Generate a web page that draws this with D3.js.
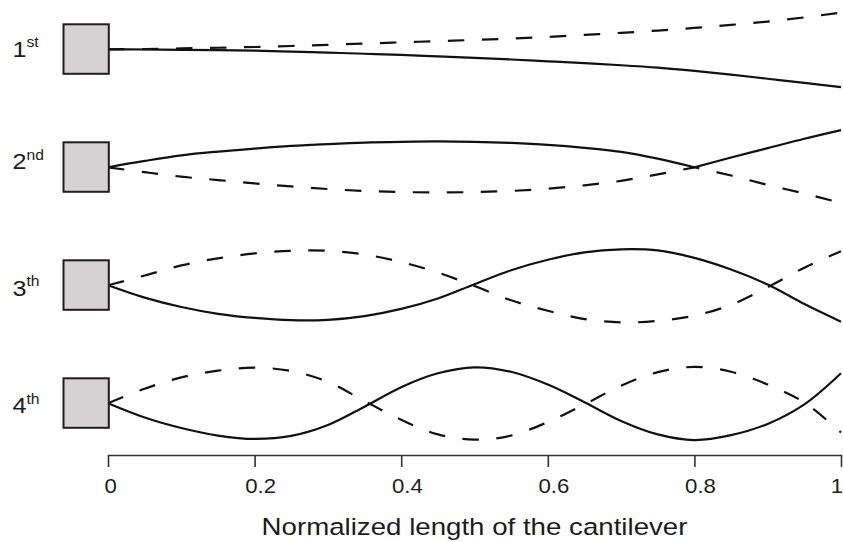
<!DOCTYPE html>
<html>
<head>
<meta charset="utf-8">
<script src="https://cdn.jsdelivr.net/npm/d3@7"></script>
<style>
  html, body { margin: 0; padding: 0; background: #fff; }
  svg { display: block; }
</style>
</head>
<body>
<svg id="chart" width="843" height="542"></svg>
<script>
// Normalized position along the cantilever (0 = clamped end, 1 = free end)
const position = [0, 0.05, 0.1, 0.15, 0.2, 0.25, 0.3, 0.35, 0.4, 0.45, 0.5,
                  0.55, 0.6, 0.65, 0.7, 0.75, 0.8, 0.85, 0.9, 0.95, 1];

// Vibration modes and their ordinal suffixes
const modes = ["1", "2", "3", "4"];
const suffixes = ["st", "nd", "th", "th"];

// Normalized deflection of each mode: two opposite extreme positions
const mode1Solid  = [0, -0.005, -0.013, -0.022, -0.037, -0.06, -0.088, -0.118, -0.15, -0.188, -0.228,
                     -0.272, -0.32, -0.37, -0.425, -0.49, -0.575, -0.675, -0.785, -0.895, -1.01];
const mode1Dashed = [0, 0.007, 0.024, 0.042, 0.062, 0.088, 0.12, 0.153, 0.186, 0.217, 0.25,
                     0.285, 0.33, 0.385, 0.44, 0.50, 0.57, 0.65, 0.74, 0.85, 0.98];

const mode2Solid  = [0, 0.17, 0.32, 0.42, 0.50, 0.57, 0.62, 0.66, 0.68, 0.69, 0.68,
                     0.65, 0.60, 0.52, 0.41, 0.23, 0, 0.26, 0.51, 0.76, 0.99];
const mode2Dashed = [0, -0.13, -0.25, -0.34, -0.43, -0.51, -0.58, -0.63, -0.66, -0.67, -0.66,
                     -0.63, -0.57, -0.48, -0.36, -0.19, 0, -0.22, -0.47, -0.70, -0.95];

const mode3Solid  = [0, -0.33, -0.58, -0.76, -0.87, -0.93, -0.92, -0.82, -0.63, -0.35, 0.03,
                     0.40, 0.68, 0.88, 0.96, 0.93, 0.73, 0.42, 0.02, -0.50, -0.97];
const mode3Dashed = [0, 0.26, 0.53, 0.72, 0.85, 0.92, 0.92, 0.82, 0.62, 0.34, -0.02,
                     -0.40, -0.68, -0.90, -0.99, -0.95, -0.81, -0.52, -0.05, 0.47, 0.91];

const mode4Solid  = [0, -0.38, -0.66, -0.86, -0.95, -0.87, -0.58, -0.09, 0.43, 0.80, 0.96,
                     0.84, 0.50, 0.03, -0.47, -0.83, -0.98, -0.85, -0.55, -0.03, 0.80];
const mode4Dashed = [0, 0.39, 0.69, 0.87, 0.95, 0.86, 0.57, 0.06, -0.44, -0.83, -0.97,
                     -0.86, -0.50, -0.03, 0.47, 0.83, 0.97, 0.84, 0.50, 0.02, -0.78];

// Axis ticks
const tickValues = [0, 0.2, 0.4, 0.6, 0.8, 1];
const tickLabels = ["0", "0.2", "0.4", "0.6", "0.8", "1"];
const axisTitle = "Normalized length of the cantilever";

const shapes = [
  { solid: mode1Solid, dashed: mode1Dashed },
  { solid: mode2Solid, dashed: mode2Dashed },
  { solid: mode3Solid, dashed: mode3Dashed },
  { solid: mode4Solid, dashed: mode4Dashed }
];

const svg = d3.select("#chart");
const font = "'Liberation Sans', Arial, Helvetica, sans-serif";
const ink = "#1c1c1c";
const stretch = 1.12;

const x = d3.scaleLinear().domain([0, 1]).range([108, 841]);
const row = d3.scalePoint().domain(modes).range([49.3, 403.3]);
const defl = d3.scaleLinear().domain([-1, 1]).range([37.5, -37.5]);

const line = d3.line()
  .x(d => x(d[0]))
  .y(d => defl(d[1]))
  .curve(d3.curveCatmullRom.alpha(0.5));

// Split a shape where it only touches zero, so the touch stays a sharp corner
function shapePath(values) {
  const pieces = [[0]];
  for (let i = 1; i < values.length; i++) {
    pieces[pieces.length - 1].push(i);
    if (i < values.length - 1 && values[i] === 0 && values[i - 1] * values[i + 1] > 0) {
      pieces.push([i]);
    }
  }
  return pieces.map((p, k) => {
    const s = line(p.map(i => [position[i], values[i]]));
    return k ? s.replace(/^M/, "L") : s;
  }).join("");
}

// Label baseline offsets for each row
const labelBase = [7.6, 2.0, 10.6, 10.0];

modes.forEach((m, i) => {
  const g = svg.append("g").attr("transform", `translate(0,${row(m)})`);

  g.append("path")
    .attr("d", shapePath(shapes[i].dashed))
    .attr("fill", "none")
    .attr("stroke", "#111")
    .attr("stroke-width", 2.2)
    .attr("stroke-dasharray", "16.5 17.5");

  g.append("path")
    .attr("d", shapePath(shapes[i].solid))
    .attr("fill", "none")
    .attr("stroke", "#111")
    .attr("stroke-width", 2.2);

  // clamp block
  g.append("rect")
    .attr("x", x(0) - 44.5)
    .attr("y", -25)
    .attr("width", 45.3)
    .attr("height", 49.5)
    .attr("fill", "#d6d1d2")
    .attr("stroke", "#1e1e1e")
    .attr("stroke-width", 2);

  const t = g.append("text")
    .attr("transform", `translate(12.5,${labelBase[i]}) scale(${stretch},1)`)
    .attr("font-family", font)
    .attr("fill", ink);
  t.append("tspan").attr("font-size", 22.5).text(m);
  t.append("tspan").attr("font-size", 14).attr("dy", -9.5).text(suffixes[i]);
});

// Bottom axis
const axis = d3.axisBottom(x)
  .tickValues(tickValues)
  .tickFormat((d, i) => tickLabels[i])
  .tickSize(12)
  .tickSizeOuter(0);

const ag = svg.append("g").attr("transform", "translate(0,455)").call(axis);
ag.select(".domain").attr("stroke", "#333").attr("stroke-width", 1.6);
ag.selectAll(".tick line").attr("stroke", "#333").attr("stroke-width", 1.6);
ag.selectAll(".tick text")
  .attr("y", null)
  .attr("dy", null)
  .attr("font-family", font)
  .attr("font-size", 19.8)
  .attr("fill", ink)
  .attr("text-anchor", (d, i) => i === tickLabels.length - 1 ? "end" : "middle")
  .attr("transform", (d, i) => {
    const dx = i === tickLabels.length - 1 ? 1.5 : (tickLabels[i].length > 1 ? 5.6 : 2.2);
    return `translate(${dx},38.3) scale(${stretch},1)`;
  });

svg.append("text")
  .attr("transform", `translate(${(x(0) + x(1)) / 2},535) scale(${stretch},1)`)
  .attr("text-anchor", "middle")
  .attr("font-family", font)
  .attr("font-size", 24.7)
  .attr("fill", ink)
  .text(axisTitle);
</script>
</body>
</html>
